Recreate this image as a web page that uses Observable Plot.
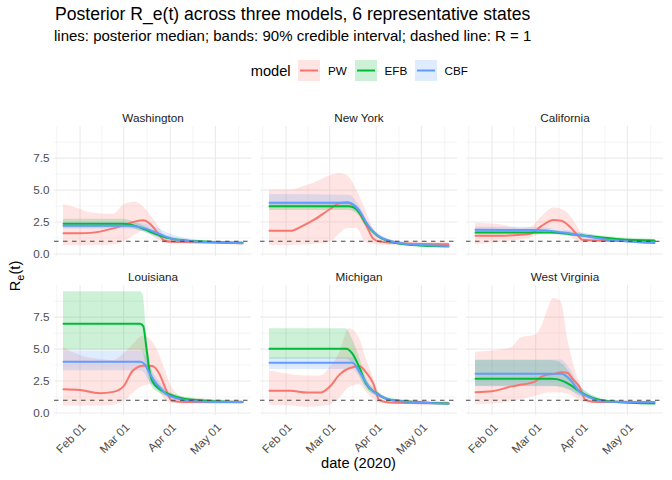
<!DOCTYPE html>
<html><head><meta charset="utf-8">
<script src="https://cdn.jsdelivr.net/npm/d3@7"></script>
<script src="https://cdn.jsdelivr.net/npm/@observablehq/plot@0.6"></script>
<style>
body{margin:0;background:#fff;font-family:"Liberation Sans",Arial,Helvetica,sans-serif;}
#wrap{position:relative;width:672px;height:480px;overflow:hidden;background:#fff;}
#head{position:relative;height:95px;}
.t{position:absolute;white-space:nowrap;line-height:1;}
#title{left:55px;top:5.8px;font-size:17.6px;color:#000;}
#subtitle{left:54px;top:28.3px;font-size:15px;color:#000;}
.lg{position:absolute;top:60px;height:21px;display:flex;align-items:center;white-space:nowrap;}
#chart{position:absolute;left:0;top:95px;}
</style></head>
<body>
<div id="wrap">
  <div id="head">
    <div class="t" id="title">Posterior R_e(t) across three models, 6 representative states</div>
    <div class="t" id="subtitle">lines: posterior median; bands: 90% credible interval; dashed line: R = 1</div>
    <div id="legend"></div>
  </div>
  <div id="chart"></div>
</div>
<script>
const states = ["Washington","New York","California","Louisiana","Michigan","West Virginia"];
const models = ["PW","EFB","CBF"];
const modelColors = ["#F8766D","#00BA38","#619CFF"];
const yTicks = [0, 2.5, 5, 7.5];
const yMinorTicks = [1.25, 3.75, 6.25, 8.75];
const xBreaks = ["2020-01-01","2020-02-01","2020-03-01","2020-04-01","2020-05-01","2020-06-01"];
const xTickDates = ["2020-02-01","2020-03-01","2020-04-01","2020-05-01"];
const refLine = [1];

// [date, lower 5%, median, upper 95%]
const WA_PW = [["2020-01-21",0.65,1.63,3.85],["2020-02-01",0.65,1.63,3.5],["2020-02-08",0.65,1.65,3.2],["2020-02-23",0.7,2.0,3.1],["2020-03-02",1.0,2.3,3.9],["2020-03-09",1.5,2.55,4.05],["2020-03-14",1.8,2.63,3.7],["2020-03-19",1.5,2.3,3.0],["2020-03-24",1.1,1.6,2.2],["2020-03-28",0.85,1.05,1.4],["2020-04-02",0.8,0.95,1.1],["2020-04-15",0.8,0.92,1.02],["2020-05-01",0.78,0.88,0.98],["2020-05-19",0.75,0.84,0.94]];
const WA_EFB = [["2020-01-21",2.05,2.36,2.72],["2020-03-01",2.05,2.36,2.72],["2020-03-08",1.95,2.22,2.5],["2020-03-15",1.7,1.92,2.15],["2020-03-22",1.4,1.58,1.78],["2020-03-30",1.12,1.26,1.4],["2020-04-11",0.97,1.06,1.15],["2020-05-01",0.86,0.93,1.0],["2020-05-19",0.8,0.87,0.94]];
const WA_CBF = [["2020-01-21",1.95,2.2,2.45],["2020-03-05",1.95,2.2,2.45],["2020-03-15",1.7,2.0,2.35],["2020-03-24",1.25,1.6,2.0],["2020-04-02",0.95,1.2,1.5],["2020-04-15",0.85,1.0,1.15],["2020-05-01",0.82,0.91,1.0],["2020-05-19",0.77,0.84,0.92]];

const NY_PW = [["2020-01-21",0.66,1.81,5.0],["2020-02-04",0.66,1.81,5.0],["2020-02-12",0.7,2.2,5.25],["2020-02-20",0.75,2.7,5.56],["2020-03-01",0.9,3.5,6.1],["2020-03-08",1.6,4.0,6.3],["2020-03-13",2.0,4.05,6.1],["2020-03-19",2.0,3.5,5.0],["2020-03-25",0.9,2.3,3.4],["2020-03-30",0.75,1.2,2.0],["2020-04-03",0.7,0.97,1.3],["2020-04-20",0.65,0.82,0.95],["2020-05-19",0.6,0.76,0.9]];
const NY_EFB = [["2020-01-21",3.4,3.73,4.05],["2020-03-14",3.4,3.73,4.05],["2020-03-21",2.9,3.2,3.5],["2020-03-25",2.15,2.4,2.7],["2020-04-01",1.35,1.5,1.68],["2020-04-10",0.88,0.97,1.07],["2020-04-25",0.64,0.7,0.77],["2020-05-19",0.53,0.58,0.64]];
const NY_CBF = [["2020-01-21",3.6,4.0,4.65],["2020-03-14",3.6,4.0,4.6],["2020-03-20",3.15,3.5,3.9],["2020-03-27",1.9,2.15,2.45],["2020-04-05",1.08,1.23,1.38],["2020-04-20",0.72,0.8,0.88],["2020-05-19",0.57,0.63,0.7]];

const CA_PW = [["2020-01-21",0.7,1.42,2.4],["2020-02-05",0.9,1.43,2.3],["2020-02-20",1.1,1.5,2.0],["2020-02-27",1.25,1.6,2.1],["2020-03-05",1.6,2.2,2.9],["2020-03-13",1.95,2.65,3.6],["2020-03-18",1.9,2.6,3.5],["2020-03-24",1.4,2.1,3.0],["2020-03-29",1.0,1.45,2.1],["2020-04-01",0.9,1.12,1.6],["2020-04-10",0.9,1.05,1.25],["2020-05-19",0.9,1.0,1.1]];
const CA_EFB = [["2020-01-21",1.5,1.68,1.86],["2020-03-10",1.5,1.68,1.86],["2020-03-24",1.4,1.55,1.7],["2020-04-09",1.22,1.35,1.48],["2020-04-26",1.04,1.15,1.26],["2020-05-19",0.96,1.05,1.14]];
const CA_CBF = [["2020-01-21",1.68,1.89,2.1],["2020-03-01",1.68,1.88,2.08],["2020-03-18",1.5,1.7,1.9],["2020-04-01",1.25,1.45,1.65],["2020-04-15",1.0,1.15,1.3],["2020-05-01",0.86,0.98,1.1],["2020-05-19",0.75,0.85,0.95]];

const LA_PW = [["2020-01-21",0.55,1.86,5.1],["2020-02-01",0.55,1.8,4.5],["2020-02-14",0.55,1.55,4.2],["2020-02-23",0.6,1.65,4.1],["2020-03-01",0.85,2.1,4.6],["2020-03-07",1.5,3.3,5.3],["2020-03-14",2.1,3.7,6.0],["2020-03-20",2.2,3.67,5.6],["2020-03-25",1.6,3.0,4.5],["2020-03-29",1.0,1.86,3.2],["2020-04-02",0.75,0.95,2.0],["2020-04-11",0.72,0.85,1.2],["2020-05-19",0.7,0.83,0.95]];
const LA_EFB = [["2020-01-21",4.9,6.98,9.5],["2020-03-12",4.9,6.98,9.5],["2020-03-14",4.7,6.8,9.2],["2020-03-16",3.6,5.2,6.5],["2020-03-18",2.6,3.4,4.5],["2020-03-20",2.0,2.5,3.2],["2020-03-25",1.55,1.86,2.2],["2020-03-31",1.28,1.47,1.68],["2020-04-11",0.98,1.1,1.22],["2020-05-01",0.84,0.92,1.0],["2020-05-19",0.78,0.85,0.92]];
const LA_CBF = [["2020-01-21",3.3,4.0,4.85],["2020-03-12",3.3,4.0,4.85],["2020-03-15",3.1,3.8,4.6],["2020-03-18",2.5,3.15,3.8],["2020-03-22",1.95,2.4,2.9],["2020-03-25",1.65,2.0,2.4],["2020-03-29",1.25,1.5,1.8],["2020-04-05",0.98,1.15,1.35],["2020-04-20",0.8,0.9,1.0],["2020-05-19",0.77,0.85,0.93]];

const MI_PW = [["2020-01-21",0.6,1.73,3.3],["2020-02-04",0.55,1.73,3.0],["2020-02-15",0.45,1.6,2.9],["2020-02-24",0.5,1.6,2.9],["2020-03-01",0.6,2.05,3.5],["2020-03-08",1.2,3.06,4.8],["2020-03-14",2.0,3.5,6.6],["2020-03-21",2.2,3.65,5.8],["2020-03-25",1.7,3.2,4.3],["2020-03-30",1.1,2.3,2.8],["2020-04-03",0.75,1.0,1.6],["2020-04-10",0.7,0.82,1.05],["2020-05-19",0.65,0.75,0.9]];
const MI_EFB = [["2020-01-21",4.2,5.03,6.6],["2020-03-12",4.2,5.03,6.6],["2020-03-16",3.9,4.66,5.8],["2020-03-21",2.9,3.5,4.3],["2020-03-25",1.95,2.33,2.8],["2020-04-01",1.35,1.55,1.8],["2020-04-10",0.93,1.04,1.16],["2020-05-19",0.65,0.73,0.8]];
const MI_CBF = [["2020-01-21",3.4,3.94,4.35],["2020-03-16",3.4,3.94,4.35],["2020-03-21",2.8,3.2,3.6],["2020-03-24",2.25,2.6,2.95],["2020-03-28",1.65,1.9,2.15],["2020-04-04",1.15,1.3,1.45],["2020-04-15",0.86,0.95,1.04],["2020-05-19",0.66,0.72,0.78]];

const WV_PW = [["2020-01-21",0.65,1.63,4.75],["2020-02-01",0.7,1.7,4.85],["2020-02-14",0.9,2.08,5.1],["2020-02-20",1.04,2.2,5.85],["2020-03-01",1.3,2.5,6.1],["2020-03-05",1.45,2.85,6.75],["2020-03-09",1.56,3.0,8.05],["2020-03-13",1.56,3.06,8.96],["2020-03-18",1.56,3.19,8.7],["2020-03-22",1.5,3.15,5.95],["2020-03-26",1.3,2.6,3.9],["2020-03-30",1.0,2.07,2.4],["2020-04-03",0.8,1.04,1.5],["2020-04-08",0.75,0.88,1.15],["2020-04-15",0.72,0.86,1.0],["2020-05-19",0.7,0.85,0.9]];
const WV_EFB = [["2020-01-21",2.1,2.67,4.1],["2020-03-12",2.1,2.67,4.1],["2020-03-18",2.0,2.55,3.9],["2020-03-24",1.75,2.2,3.1],["2020-03-30",1.4,1.7,2.1],["2020-04-08",1.0,1.17,1.35],["2020-04-20",0.8,0.9,1.0],["2020-05-19",0.66,0.73,0.8]];
const WV_CBF = [["2020-01-21",2.05,3.06,4.15],["2020-03-18",2.05,3.06,4.15],["2020-03-24",1.8,2.6,3.4],["2020-03-30",1.3,1.68,2.2],["2020-04-07",1.0,1.17,1.4],["2020-04-15",0.8,0.9,1.0],["2020-05-19",0.78,0.85,0.92]];

const seriesByState = {
  "Washington": {PW: WA_PW, EFB: WA_EFB, CBF: WA_CBF},
  "New York": {PW: NY_PW, EFB: NY_EFB, CBF: NY_CBF},
  "California": {PW: CA_PW, EFB: CA_EFB, CBF: CA_CBF},
  "Louisiana": {PW: LA_PW, EFB: LA_EFB, CBF: LA_CBF},
  "Michigan": {PW: MI_PW, EFB: MI_EFB, CBF: MI_CBF},
  "West Virginia": {PW: WV_PW, EFB: WV_EFB, CBF: WV_CBF}
};

const rows = [];
states.forEach((s, i) => models.forEach(m => seriesByState[s][m].forEach(([d, lo, mid, hi]) =>
  rows.push({state: s, col: i % 3, row: Math.floor(i / 3), model: m, date: new Date(d), lo, mid, hi}))));
const stateRows = states.map((s, i) => ({state: s, col: i % 3, row: Math.floor(i / 3)}));

const majors = xBreaks.map(d => new Date(d));
const xMajor = xTickDates.map(d => new Date(d));
const xMinor = d3.pairs(majors).map(([a, b]) => new Date((+a + +b) / 2));

const font = '"Liberation Sans", Arial, Helvetica, sans-serif';
const plot = Plot.plot({
  width: 672,
  height: 385,
  marginTop: 30.6,
  marginBottom: 63.4,
  marginLeft: 53,
  marginRight: 8,
  style: {fontFamily: font, fontSize: "11.7px", color: "#4d4d4d", background: "#fff", overflow: "visible"},
  fx: {axis: null, domain: [0, 1, 2], paddingInner: 0.0447, paddingOuter: 0},
  fy: {axis: null, domain: [0, 1], paddingInner: 0.181, paddingOuter: 0},
  x: {type: "utc", domain: [new Date("2020-01-15"), new Date("2020-05-25")]},
  y: {domain: [-0.2, 9.98]},
  color: {domain: models, range: modelColors},
  marks: [
    Plot.ruleX(xMinor, {stroke: "#ebebeb", strokeWidth: 0.55}),
    Plot.ruleY(yMinorTicks, {stroke: "#ebebeb", strokeWidth: 0.55}),
    Plot.ruleX(xMajor, {stroke: "#ebebeb", strokeWidth: 1.1}),
    Plot.ruleY(yTicks, {stroke: "#ebebeb", strokeWidth: 1.1}),
    Plot.areaY(rows, {x: "date", y1: "lo", y2: "hi", fill: "model", z: "model", fx: "col", fy: "row", fillOpacity: 0.2, curve: "monotone-x"}),
    Plot.lineY(rows, {x: "date", y: "mid", stroke: "model", z: "model", fx: "col", fy: "row", strokeWidth: 2, curve: "monotone-x"}),
    Plot.ruleY(refLine, {stroke: "#444", strokeWidth: 1.1, strokeDasharray: "4.5,4.5"}),
    Plot.text(stateRows, {fx: "col", fy: "row", text: "state", frameAnchor: "top", lineAnchor: "bottom", dy: -5, fill: "#1a1a1a", fontSize: 11.7}),
    Plot.axisY(yTicks, {tickSize: 0, tickPadding: 5, tickFormat: d3.format(".1f"), label: null}),
    Plot.axisX(xMajor, {tickSize: 0, tickPadding: 10, dx: 4, tickRotate: -45, tickFormat: d3.utcFormat("%b %d"), label: null})
  ]
});

const svg = d3.select(plot);
svg.append("text")
  .attr("x", 358.5).attr("y", 373)
  .attr("text-anchor", "middle")
  .attr("fill", "#000")
  .style("font-size", "14.67px")
  .text("date (2020)");
const yt = svg.append("text")
  .attr("transform", "translate(20,181) rotate(-90)")
  .attr("text-anchor", "middle")
  .attr("fill", "#000")
  .style("font-size", "14.67px");
yt.append("tspan").text("R");
yt.append("tspan").attr("dy", 4).style("font-size", "11px").text("e");
yt.append("tspan").attr("dy", -4).text("(t)");
document.getElementById("chart").appendChild(plot);

// legend
const legend = document.getElementById("legend");
const lgItems = [{text: "model", left: 250.7, size: 14.67}];
const keyLefts = [298, 355, 415];
const labelLefts = [328, 384.5, 444.5];
models.forEach((m, i) => {
  const k = document.createElement("div");
  k.className = "lg";
  k.style.left = keyLefts[i] + "px";
  k.innerHTML = `<svg width="22" height="21" style="display:block"><rect width="22" height="21" fill="${modelColors[i]}" fill-opacity="0.2"/><line x1="2" x2="20" y1="10.5" y2="10.5" stroke="${modelColors[i]}" stroke-width="2"/></svg>`;
  legend.appendChild(k);
  lgItems.push({text: m, left: labelLefts[i], size: 11.7});
});
lgItems.forEach(it => {
  const d = document.createElement("div");
  d.className = "lg";
  d.style.left = it.left + "px";
  d.style.fontSize = it.size + "px";
  d.style.color = "#000";
  d.textContent = it.text;
  legend.appendChild(d);
});
</script>
</body></html>
